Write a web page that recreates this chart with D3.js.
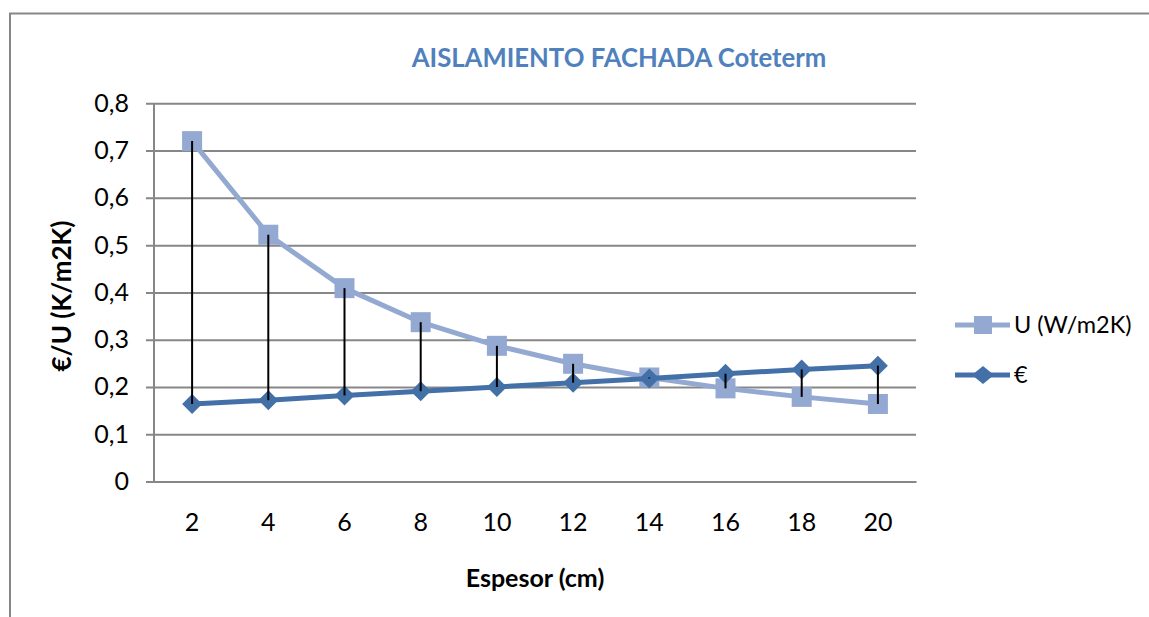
<!DOCTYPE html>
<html>
<head>
<meta charset="utf-8">
<script src="https://cdn.jsdelivr.net/npm/d3@7"></script>
<style>
  html, body { margin: 0; padding: 0; background: #fff; }
  svg { display: block; font-family: Lato, "Open Sans", sans-serif; }
</style>
</head>
<body>
<svg id="chart" width="1149" height="617"></svg>
<script>
// Espesor del aislamiento (cm)
const espesores = [2, 4, 6, 8, 10, 12, 14, 16, 18, 20];
// Transmitancia U (W/m2K)
const uValues = [0.72, 0.522, 0.409, 0.337, 0.287, 0.249, 0.22, 0.197, 0.179, 0.164];
// Coste (€)
const costValues = [0.164, 0.172, 0.182, 0.191, 0.200, 0.209, 0.218, 0.228, 0.237, 0.245];
// Marcas del eje vertical
const yTicks = [0, 0.1, 0.2, 0.3, 0.4, 0.5, 0.6, 0.7, 0.8];

const seriesNames = ["U (W/m2K)", "€"];
const colorU = "#93A9D1";
const colorCost = "#4470A8";
const gridColor = "#878787";

const svg = d3.select("#chart");

// Marco del gráfico
svg.append("rect")
  .attr("x", 10).attr("y", 13.5)
  .attr("width", 1200).attr("height", 700)
  .attr("fill", "none").attr("stroke", gridColor).attr("stroke-width", 2);

const plot = { left: 154, right: 916, top: 103.3, bottom: 481.5 };

const x = d3.scaleBand().domain(espesores).range([plot.left, plot.right]);
const y = d3.scaleLinear().domain([0, 0.8]).range([plot.bottom, plot.top]);
const cx = d => x(d) + x.bandwidth() / 2;
const fmt = d => d3.format(".1f")(d).replace(".", ",").replace(/^0,0$/, "0");

// Líneas de división y etiquetas del eje Y
const yAxis = d3.axisLeft(y)
  .tickValues(yTicks)
  .tickSize(plot.right - plot.left + 8)
  .tickPadding(17)
  .tickFormat(fmt);

const gy = svg.append("g")
  .attr("transform", `translate(${plot.right},0)`)
  .call(yAxis);
gy.select(".domain").remove();
gy.selectAll(".tick line").attr("stroke", gridColor).attr("stroke-width", 2);
gy.selectAll(".tick text")
  .attr("fill", "#000").attr("font-size", 25).attr("font-family", "Lato");

// Eje vertical
svg.append("line")
  .attr("x1", plot.left).attr("x2", plot.left)
  .attr("y1", plot.top).attr("y2", plot.bottom)
  .attr("stroke", gridColor).attr("stroke-width", 2);

// Eje horizontal
const xAxis = d3.axisBottom(x).tickSize(0).tickPadding(32);
const gx = svg.append("g")
  .attr("transform", `translate(0,${plot.bottom})`)
  .call(xAxis);
gx.select(".domain").attr("stroke", gridColor).attr("stroke-width", 2);
gx.selectAll(".tick text")
  .attr("fill", "#000").attr("font-size", 25).attr("font-family", "Lato");

// Títulos
svg.append("text")
  .attr("x", 619).attr("y", 67)
  .attr("text-anchor", "middle")
  .attr("font-size", 25.7).attr("font-weight", "bold")
  .attr("fill", "#4F81BD")
  .text("AISLAMIENTO FACHADA Coteterm");

svg.append("text")
  .attr("x", 535).attr("y", 587)
  .attr("text-anchor", "middle")
  .attr("font-size", 25).attr("font-weight", "bold")
  .attr("fill", "#000")
  .text("Espesor (cm)");

svg.append("text")
  .attr("transform", "translate(71,296) rotate(-90)")
  .attr("text-anchor", "middle")
  .attr("font-size", 26).attr("font-weight", "bold")
  .attr("fill", "#000")
  .text("€/U (K/m2K)");

// Series
const line = d3.line().x((d, i) => cx(espesores[i])).y(d => y(d));

svg.append("path")
  .datum(uValues)
  .attr("d", line)
  .attr("fill", "none").attr("stroke", colorU).attr("stroke-width", 5)
  .attr("stroke-linejoin", "round");

const sq = 20;
svg.append("g").selectAll("rect")
  .data(uValues)
  .join("rect")
  .attr("x", (d, i) => cx(espesores[i]) - sq / 2)
  .attr("y", d => y(d) - sq / 2)
  .attr("width", sq).attr("height", sq)
  .attr("fill", colorU);

svg.append("path")
  .datum(costValues)
  .attr("d", line)
  .attr("fill", "none").attr("stroke", colorCost).attr("stroke-width", 5)
  .attr("stroke-linejoin", "round");

const diamond = (px, py, w, h) =>
  `M${px},${py - h / 2}L${px + w / 2},${py}L${px},${py + h / 2}L${px - w / 2},${py}Z`;

svg.append("g").selectAll("path")
  .data(costValues)
  .join("path")
  .attr("d", (d, i) => diamond(cx(espesores[i]), y(d), 20, 20))
  .attr("fill", colorCost);

// Líneas máximo-mínimo entre ambas series
svg.append("g").selectAll("line")
  .data(espesores)
  .join("line")
  .attr("x1", d => cx(d)).attr("x2", d => cx(d))
  .attr("y1", (d, i) => y(uValues[i]))
  .attr("y2", (d, i) => y(costValues[i]))
  .attr("stroke", "#000").attr("stroke-width", 2);

// Leyenda
const legend = svg.append("g");
const legendRows = [
  { name: seriesNames[0], color: colorU, y: 325, shape: "square" },
  { name: seriesNames[1], color: colorCost, y: 375, shape: "diamond" }
];
legendRows.forEach(r => {
  legend.append("line")
    .attr("x1", 955).attr("x2", 1010)
    .attr("y1", r.y).attr("y2", r.y)
    .attr("stroke", r.color).attr("stroke-width", 5);
  if (r.shape === "square") {
    legend.append("rect")
      .attr("x", 983 - 9).attr("y", r.y - 9)
      .attr("width", 18).attr("height", 18)
      .attr("fill", r.color);
  } else {
    legend.append("path")
      .attr("d", diamond(983, r.y, 22, 18))
      .attr("fill", r.color);
  }
  legend.append("text")
    .attr("x", 1014).attr("y", r.y)
    .attr("dy", "0.35em")
    .attr("font-size", 23.5).attr("fill", "#000")
    .text(r.name);
});
</script>
</body>
</html>
